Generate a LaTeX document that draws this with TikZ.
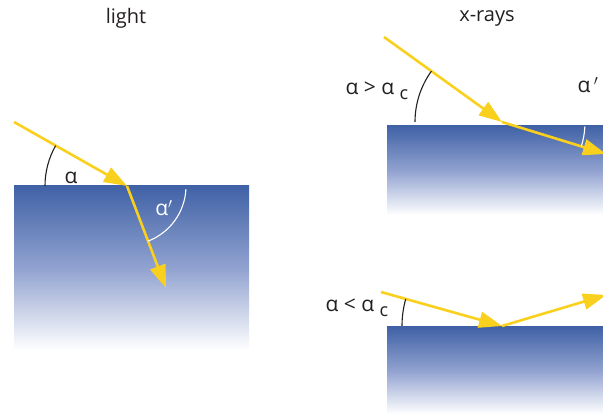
\documentclass[tikz,border=0pt]{standalone}
\usepackage{fontspec}
\setmainfont{Open Sans}
\usetikzlibrary{arrows.meta}
\definecolor{raycol}{RGB}{250,208,30}
\definecolor{topblue}{RGB}{64,98,166}
\definecolor{midblue}{RGB}{145,162,208}
\definecolor{txtcol}{RGB}{35,31,32}
\newcommand{\subc}{\raisebox{-5pt}{\fontsize{18}{20}\selectfont c}}
\begin{document}
\begin{tikzpicture}[x=1pt,y=1pt,
  ray/.style={draw=raycol,line width=2.6pt,-{Triangle[length=23pt,width=16pt]}},
  blk/.style={top color=topblue,bottom color=white,middle color=midblue},
  anglearc/.style={draw=txtcol,line width=1.1pt},
  whitearc/.style={draw=white,line width=1.1pt},
  title/.style={font=\fontsize{20}{22}\selectfont,text=txtcol},
  lbl/.style={font=\fontsize{21}{23}\selectfont,text=txtcol},
  wlbl/.style={font=\fontsize{21}{23}\selectfont,text=white}]
\clip (0,0) rectangle (603,414);
% blocks
\shade[blk] (14,64) rectangle (249,228);
\shade[blk] (387,199) rectangle (610,288);
\shade[blk] (387,0) rectangle (610,87);
% titles
\node[title] (tlight) at (126,396) {light};
\node[title] (txray) at (487,396) {x-rays};
% left: refraction of light
\coordinate (srcL) at (14,292);
\coordinate (kinkL) at (127,228);
\coordinate (endL) at (166,126);
\draw[ray] (srcL) -- (kinkL);
\draw[ray] (kinkL) -- (endL);
\draw[anglearc] ([shift={(180:82)}]kinkL) arc[start angle=180,end angle=150.5,radius=82];
\draw[whitearc] ([shift={(-3:59)}]kinkL) arc[start angle=-3,end angle=-69,radius=59];
\node[lbl] (aL) at (71,236) {α};
\node[wlbl] (apL) at (164,206) {α$'$};
% top right: alpha > alpha_c
\coordinate (srcT) at (384,377);
\coordinate (kinkT) at (502,292);
\coordinate (endT) at (606,260);
\draw[ray] (srcT) -- (kinkT);
\draw[ray] (kinkT) -- (endT);
\draw[anglearc] ([shift={(180:87)}]kinkT) arc[start angle=180,end angle=144.2,radius=87];
\draw[whitearc] ([shift={(-3:83)}]kinkT) arc[start angle=-3,end angle=-17,radius=83];
\node[lbl,inner sep=0pt] (aT) at (377,323) {α > α \subc};
\node[lbl] (apT) at (588,329) {α\,$'$};
% bottom right: alpha < alpha_c
\coordinate (srcB) at (381,122);
\coordinate (kinkB) at (502,88);
\coordinate (endB) at (606,119);
\draw[ray] (srcB) -- (kinkB);
\draw[ray] (kinkB) -- (endB);
\draw[anglearc] ([shift={(180:100)}]kinkB) arc[start angle=180,end angle=164.3,radius=100];
\node[lbl,inner sep=0pt] (aB) at (357,106) {α < α \subc};
\end{tikzpicture}
\end{document}
